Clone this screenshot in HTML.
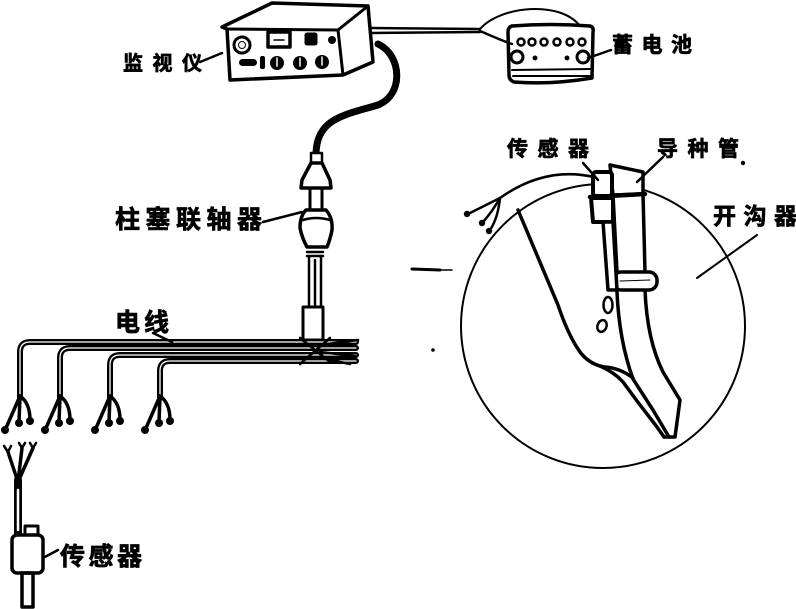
<!DOCTYPE html>
<html><head><meta charset="utf-8"><style>
html,body{margin:0;padding:0;background:#fff;}
svg{display:block;}
text{font-family:"Liberation Sans","Noto Sans CJK SC",sans-serif;font-weight:bold;fill:#000;stroke:#000;stroke-width:0.7px;}
</style></head><body>
<svg width="796" height="609" viewBox="0 0 796 609" xmlns="http://www.w3.org/2000/svg">
<g fill="none" stroke="#000" stroke-linejoin="round" stroke-linecap="round">

<!-- Monitor -->
<path d="M222,27 L272,3 L368,6 L373,62 L343,75 L230,80 L227,29 Z" stroke-width="3.5"/>
<path d="M227,29 L338,30 L368,6 M338,30 L343,75" stroke-width="3"/>
<circle cx="242" cy="45" r="8" stroke-width="3"/>
<circle cx="242" cy="45" r="3.5" stroke-width="1"/>
<rect x="268" y="32" width="22" height="15" stroke-width="3.5"/>
<line x1="274" y1="40" x2="284" y2="40" stroke-width="1.5"/>
<rect x="305" y="33" width="12" height="12" rx="2" fill="#000" stroke-width="1"/>
<circle cx="332" cy="40" r="4" fill="#000" stroke="none"/>
<rect x="239" y="59" width="18" height="7" rx="3.5" fill="#000" stroke="none"/>
<rect x="260" y="56" width="5" height="13" rx="2" fill="#000" stroke="none"/>
<circle cx="277" cy="63" r="7" fill="#000" stroke="none"/>
<circle cx="300" cy="63" r="7" fill="#000" stroke="none"/>
<circle cx="322" cy="62" r="7" fill="#000" stroke="none"/>
<path d="M277,58 V66 M300,58 V66 M322,57 V65" stroke="#fff" stroke-width="1.5"/>
<path d="M200,62 L222,53" stroke-width="2.5"/>

<!-- cable to battery -->
<path d="M372,28 L480,29 M372,33 L480,32" stroke-width="2.5"/>
<path d="M480,29 C500,6 560,0 580,26" stroke-width="2"/>
<path d="M480,31 C492,36 500,40 512,44" stroke-width="2.5"/>

<!-- Battery -->
<path d="M512,26 Q550,23 590,26 Q594,27 593,32 L592,78 Q550,85 514,82 Q509,80 509,75 L508,32 Q508,27 512,26 Z" stroke-width="3.5"/>
<path d="M512,70 L591,69 M513,76 L590,76" stroke-width="2"/>
<circle cx="521" cy="42" r="3.5" stroke-width="2.5"/>
<circle cx="532" cy="42" r="3.5" stroke-width="2.5"/>
<circle cx="544" cy="42" r="3.5" stroke-width="2.5"/>
<circle cx="557" cy="42" r="3.5" stroke-width="2.5"/>
<circle cx="570" cy="42" r="3.5" stroke-width="2.5"/>
<circle cx="582" cy="42" r="3.5" stroke-width="2.5"/>
<circle cx="517" cy="57" r="6" stroke-width="3"/>
<circle cx="583" cy="57" r="6" stroke-width="3"/>
<circle cx="535" cy="58" r="2" fill="#000"/>
<circle cx="567" cy="58" r="2" fill="#000"/>
<path d="M588,58 L611,50" stroke-width="2.5"/>

<!-- thick cable -->
<path d="M378,44 C402,55 404,95 378,105 C345,115 316,118 316,155" stroke-width="7"/>

<!-- Coupler -->
<rect x="311" y="153" width="11" height="10" stroke-width="2.5" fill="#fff"/>
<path d="M311,163 L322,163 L330,180 L331,188 L301,188 L302,180 Z" stroke-width="3.5" fill="#fff"/>
<path d="M310,188 L310,210 M322,188 L322,210" stroke-width="3"/>
<path d="M306,210 L326,210 Q333,218 332,230 Q330,240 327,247 L307,247 Q302,238 300,228 Q300,216 306,210 Z" stroke-width="3.5" fill="#fff"/>
<path d="M303,220 Q316,216 330,220" stroke-width="2.5"/>
<path d="M307,252 L323,252 M307,256 L323,256" stroke-width="2.5"/>
<path d="M309,257 L309,307 M321,257 L321,307 M315,260 L315,305" stroke-width="2.5"/>
<rect x="303" y="307" width="20" height="33" stroke-width="3" fill="#fff"/>
<path d="M263,222 L302,212" stroke-width="2.5"/>

<!-- wire bundle -->
<g stroke-width="6">
<path d="M356,342 H30 Q20,342 20,352 V398"/>
<path d="M356,348 H70 Q60,348 60,358 V398"/>
<path d="M356,355 H120 Q110,355 110,365 V398"/>
<path d="M356,361 H170 Q160,361 160,371 V398"/>
</g>
<g stroke-width="1.3" stroke="#fff">
<path d="M356,342 H30 Q20,342 20,352 V394"/>
<path d="M356,348 H70 Q60,348 60,358 V394"/>
<path d="M356,355 H120 Q110,355 110,365 V394"/>
<path d="M356,361 H170 Q160,361 160,371 V394"/>
</g>
<path d="M300,338 L330,362 M300,364 L330,338 M320,345 L358,340 M320,352 L355,356 M320,358 L350,364" stroke-width="2.5"/>
<path d="M153,333 L172,342" stroke-width="2.5"/>

<!-- forks -->
<g stroke-width="3.5">
<path d="M20,396 L6,428 M20,396 L19,422 M20,396 Q30,403 30,420"/>
<path d="M60,396 L46,428 M60,396 L59,422 M60,396 Q70,403 70,420"/>
<path d="M110,396 L96,428 M110,396 L109,422 M110,396 Q120,403 120,420"/>
<path d="M160,396 L146,428 M160,396 L159,422 M160,396 Q170,403 170,420"/>
</g>
<g fill="#000" stroke="none">
<circle cx="5" cy="430" r="4"/><circle cx="19" cy="423" r="4"/><circle cx="30" cy="421" r="4"/>
<circle cx="45" cy="430" r="4"/><circle cx="59" cy="423" r="4"/><circle cx="70" cy="421" r="4"/>
<circle cx="95" cy="430" r="4"/><circle cx="109" cy="423" r="4"/><circle cx="120" cy="421" r="4"/>
<circle cx="145" cy="430" r="4"/><circle cx="159" cy="423" r="4"/><circle cx="170" cy="421" r="4"/>
</g>

<!-- bottom sensor -->
<path d="M18,482 L8,452 M18,482 L22,448 M18,482 L33,448" stroke-width="3.5"/>
<path d="M4,446 L8,452 L11,446 M19,443 L22,448 L25,443 M30,443 L33,448 L36,443" stroke-width="2.5"/>
<path d="M18,480 L18,533" stroke-width="8"/>
<path d="M18,490 L18,530" stroke="#fff" stroke-width="2.5"/>
<rect x="25" y="526" width="13" height="9" stroke-width="3"/>
<rect x="12" y="535" width="31" height="38" rx="5" stroke-width="3.5" fill="#fff"/>
<rect x="22" y="573" width="11" height="34" stroke-width="3.5"/>
<path d="M43,558 L58,550" stroke-width="2.5"/>

<!-- dash / dot -->
<path d="M412,269 L440,270" stroke-width="3"/>
<path d="M440,270 L452,270" stroke-width="1.5"/>
<circle cx="433" cy="350" r="1.8" fill="#000" stroke="none"/>

<!-- Circle -->
<circle cx="603" cy="326" r="142" stroke-width="2"/>

<!-- shank -->
<path d="M518,210 L558,305 Q568,335 580,352 Q590,365 605,367 Q620,368 633,378" stroke-width="3.5"/>
<path d="M600,366 Q614,372 623,382 L637,401 L657,427 L664,437" stroke-width="3.5"/>
<path d="M617,292 Q619,340 633,379 L653,410 L669,437" stroke-width="3.5"/>
<path d="M645,290 Q647,340 663,372 L680,400 L675,437 L664,437" stroke-width="3.5"/>

<!-- tube -->
<path d="M610,165 L643,172 L643,194 L613,195 Z" stroke-width="3.5" fill="#fff"/>
<path d="M590,197 L645,194" stroke-width="4.5"/>
<path d="M613,195 L617,272 M643,194 L645,272" stroke-width="3.5"/>
<rect x="613" y="272" width="44" height="18" rx="8" stroke-width="3.5" fill="#fff"/>
<path d="M620,281 L650,280" stroke-width="1"/>

<!-- sensor on tube -->
<rect x="593" y="172" width="19" height="24" rx="3" stroke-width="4" fill="#fff"/>
<path d="M591,198 L613,198 L613,222 L593,222 Z" stroke-width="4" fill="#fff"/>
<path d="M603,222 L613,222 L617,290 L608,290 Z" stroke-width="3.5" fill="#fff"/>
<ellipse cx="608" cy="305" rx="4.5" ry="8" stroke-width="2.5"/>
<ellipse cx="602" cy="326" rx="4.5" ry="6" stroke-width="2.5" transform="rotate(20 602 326)"/>

<!-- sensor wire -->
<path d="M594,177 Q545,166 500,198" stroke-width="2.5"/>
<path d="M500,198 L468,214 M500,198 Q492,212 483,222 M500,198 Q498,218 490,230" stroke-width="2.5"/>
<g fill="#000" stroke="none">
<circle cx="467" cy="214" r="3.2"/><circle cx="482" cy="223" r="3.2"/><circle cx="489" cy="231" r="3.2"/>
</g>

<!-- leaders right -->
<path d="M583,163 L598,180" stroke-width="2.5"/>
<path d="M663,157 L637,182" stroke-width="2.5"/>
<path d="M757,235 L697,278" stroke-width="2"/>
</g>

<circle cx="743" cy="163" r="2.2" fill="#000"/>

<text x="123" y="70" font-size="20" textLength="79" lengthAdjust="spacing">监视仪</text>
<text x="612" y="52" font-size="21" textLength="80" lengthAdjust="spacing">蓄电池</text>
<text x="115" y="228" font-size="25" textLength="147" lengthAdjust="spacing">柱塞联轴器</text>
<text x="115" y="331" font-size="25" textLength="54" lengthAdjust="spacing">电线</text>
<text x="60" y="565" font-size="25" textLength="82" lengthAdjust="spacing">传感器</text>
<text x="507" y="156" font-size="21" textLength="82" lengthAdjust="spacing">传感器</text>
<text x="657" y="156" font-size="21" textLength="82" lengthAdjust="spacing">导种管</text>
<text x="713" y="224" font-size="23" textLength="84" lengthAdjust="spacing">开沟器</text>
</svg>
</body></html>
